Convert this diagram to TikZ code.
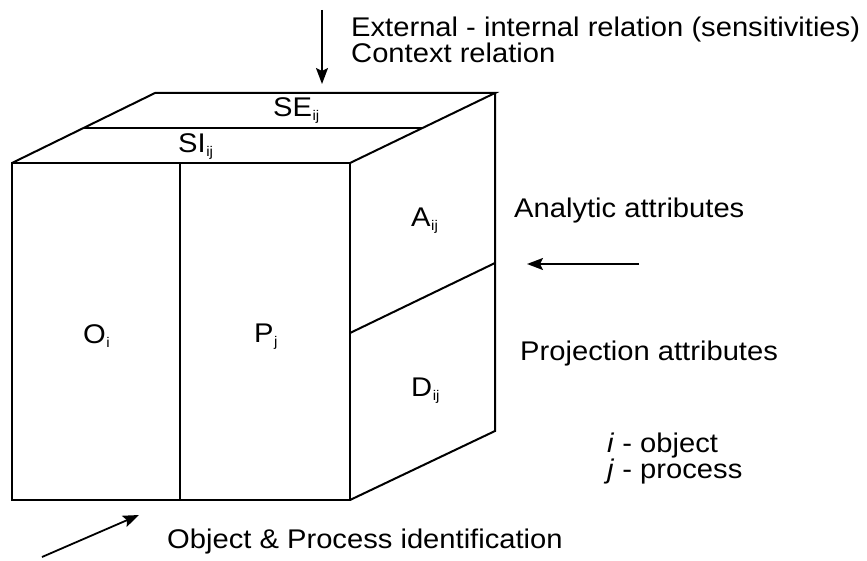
\documentclass[tikz,border=0pt]{standalone}
\usepackage{fontspec}
\setmainfont{Liberation Sans}[FakeStretch=1.08]
\usetikzlibrary{arrows.meta}
\newcommand\lowsub[1]{\kern0.5pt\raisebox{-4pt}{\fontsize{14}{14}\selectfont #1}}
\tikzset{
  edge/.style={line width=2pt, line join=miter},
  pointer/.style={line width=1.8pt, -{Stealth[length=16pt,width=12pt,inset=3pt]}},
  lbl/.style={font=\fontsize{27}{27}\selectfont, inner sep=0pt, anchor=base west},
  note/.style={font=\fontsize{27}{27}\selectfont, inner sep=0pt, anchor=base west},
}
\begin{document}
\begin{tikzpicture}[x=1pt, y=-1pt]
\useasboundingbox (0,0) rectangle (867,561);
% cube corners
\coordinate (fTL) at (12,163);
\coordinate (fTR) at (350,163);
\coordinate (fBL) at (12,500);
\coordinate (fBR) at (350,500);
\coordinate (bTL) at (155,93);
\coordinate (bTR) at (495,93);
\coordinate (bBR) at (495,431);
\coordinate (fTM) at (180,163);
\coordinate (fBM) at (180,500);
\coordinate (tML) at (83.5,128);
\coordinate (tMR) at (422.5,128);
\coordinate (rML) at (350,333);
\coordinate (rMR) at (495,263);
% faces
\draw[edge] (fTL) rectangle (fBR);
\draw[edge] (fTL) -- (bTL) -- (bTR) -- (fTR);
\draw[edge] (bTR) -- (bBR) -- (fBR);
\draw[edge] (fTM) -- (fBM);
\draw[edge] (tML) -- (tMR);
\draw[edge] (rML) -- (rMR);
% cell labels
\node[lbl] (se) at (273,117) {SE\lowsub{ij}};
\node[lbl] (si) at (178,153) {SI\lowsub{ij}};
\node[lbl] (a) at (411,227) {A\lowsub{ij}};
\node[lbl] (d) at (411,396) {D\lowsub{ij}};
\node[lbl] (o) at (83,343) {O\lowsub{i}};
\node[lbl] (p) at (254,342) {P\lowsub{j}};
% side notes
\node[note] (ext1) at (351,37) {External - internal relation (sensitivities)};
\node[note] (ext2) at (351,63) {Context relation};
\node[note] (ana) at (514,218) {Analytic attributes};
\node[note] (proj) at (520,360) {Projection attributes};
\node[note] (idx1) at (607,452) {\textit{i} - object};
\node[note] (idx2) at (607,478) {\textit{j} - process};
\node[note] (opi) at (167,548) {Object \& Process identification};
% arrows
\coordinate (t1) at (322,10);
\coordinate (t2) at (322,84);
\coordinate (r1) at (639,264);
\coordinate (r2) at (527,264);
\coordinate (b1) at (42,557);
\coordinate (b2) at (139,515);
\draw[pointer] (t1) -- (t2);
\draw[pointer] (r1) -- (r2);
\draw[pointer] (b1) -- (b2);
\end{tikzpicture}
\end{document}
